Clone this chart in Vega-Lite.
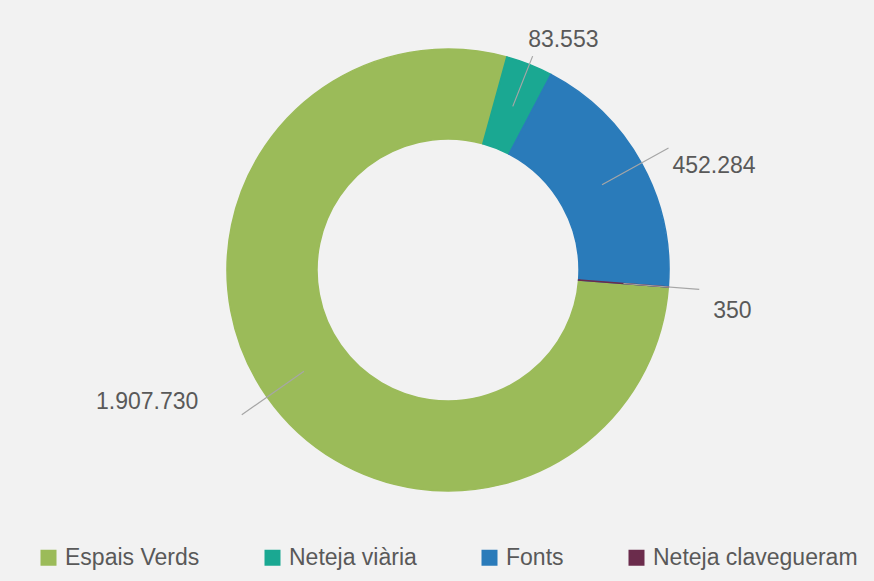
{
  "$schema": "https://vega.github.io/schema/vega-lite/v6.json",
  "width": 896,
  "height": 540,
  "autosize": {"type": "none"},
  "padding": {"left": 0, "top": 0, "right": 0, "bottom": 41},
  "background": "#f2f2f2",
  "config": {
    "view": {"stroke": null},
    "font": "Liberation Sans",
    "locale": {"number": {"decimal": ",", "thousands": ".", "grouping": [3], "currency": ["", " €"]}}
  },
  "data": {
    "values": [
      {"category": "Espais Verds", "value": 1907730, "order": 1},
      {"category": "Neteja viària", "value": 83553, "order": 2},
      {"category": "Fonts", "value": 452284, "order": 3},
      {"category": "Neteja clavegueram", "value": 350, "order": 4}
    ]
  },
  "transform": [
    {"stack": "value", "groupby": [], "sort": [{"field": "order", "order": "ascending"}], "as": ["v0", "v1"]},
    {"calculate": "(datum.v0 + datum.v1) / 2", "as": "mid"}
  ],
  "layer": [
    {
      "mark": {"type": "arc", "radius": 221, "radius2": 131, "strokeWidth": 1.5},
      "encoding": {
        "theta": {"field": "v0", "type": "quantitative", "stack": null, "scale": {"range": [1.6476, 7.9308], "zero": true, "nice": false}},
        "theta2": {"field": "v1"},
        "color": {
          "field": "category", "type": "nominal",
          "scale": {"domain": ["Espais Verds", "Neteja viària", "Fonts", "Neteja clavegueram"], "range": ["#9bbb59", "#1aa892", "#2a7bba", "#6b2c4c"]},
          "legend": {
            "orient": "none", "legendX": 37, "legendY": 546, "direction": "horizontal", "columns": 4,
            "columnPadding": 61, "title": null, "symbolType": "square", "symbolSize": 256, "symbolStrokeWidth": 0,
            "labelFontSize": 23, "labelColor": "#595959", "labelFont": "Liberation Sans", "labelOffset": 5,
            "labelLimit": 500, "padding": 0
          }
        },
        "stroke": {
          "field": "category", "type": "nominal",
          "scale": {"domain": ["Espais Verds", "Neteja viària", "Fonts", "Neteja clavegueram"], "range": ["#9bbb59", "#1aa892", "#2a7bba", "#6b2c4c"]},
          "legend": null
        }
      }
    },
    {
      "transform": [{"filter": "datum.category !== 'Neteja viària'"}],
      "mark": {"type": "arc", "radius": 252, "radius2": 176, "fill": "#a6a6a6", "fillOpacity": 0, "stroke": "#a6a6a6", "strokeWidth": 1.2},
      "encoding": {
        "theta": {"field": "mid", "type": "quantitative", "stack": null},
        "theta2": {"field": "mid"}
      }
    },
    {
      "transform": [{"filter": "datum.category === 'Neteja viària'"}],
      "mark": {"type": "arc", "radius": 230, "radius2": 176, "fill": "#a6a6a6", "fillOpacity": 0, "stroke": "#a6a6a6", "strokeWidth": 1.2},
      "encoding": {
        "theta": {"field": "mid", "type": "quantitative", "stack": null},
        "theta2": {"field": "mid"}
      }
    },
    {
      "transform": [{"filter": "datum.category === 'Neteja viària'"}],
      "mark": {"type": "text", "radius": 240, "dx": 27, "align": "center", "baseline": "alphabetic", "fontSize": 23, "fill": "#595959"},
      "encoding": {
        "theta": {"field": "mid", "type": "quantitative", "stack": null},
        "text": {"field": "value", "type": "quantitative", "format": ","}
      }
    },
    {
      "transform": [{"filter": "datum.category === 'Fonts'"}],
      "mark": {"type": "text", "radius": 245, "dx": 10, "dy": 15, "align": "left", "baseline": "middle", "fontSize": 23, "fill": "#595959"},
      "encoding": {
        "theta": {"field": "mid", "type": "quantitative", "stack": null},
        "text": {"field": "value", "type": "quantitative", "format": ","}
      }
    },
    {
      "transform": [{"filter": "datum.category === 'Neteja clavegueram'"}],
      "mark": {"type": "text", "radius": 262, "dx": 4, "dy": 21, "align": "left", "baseline": "middle", "fontSize": 23, "fill": "#595959"},
      "encoding": {
        "theta": {"field": "mid", "type": "quantitative", "stack": null},
        "text": {"field": "value", "type": "quantitative", "format": ","}
      }
    },
    {
      "transform": [{"filter": "datum.category === 'Espais Verds'"}],
      "mark": {"type": "text", "radius": 255, "dx": -41, "dy": -15, "align": "right", "baseline": "middle", "fontSize": 23, "fill": "#595959"},
      "encoding": {
        "theta": {"field": "mid", "type": "quantitative", "stack": null},
        "text": {"field": "value", "type": "quantitative", "format": ","}
      }
    }
  ]
}
